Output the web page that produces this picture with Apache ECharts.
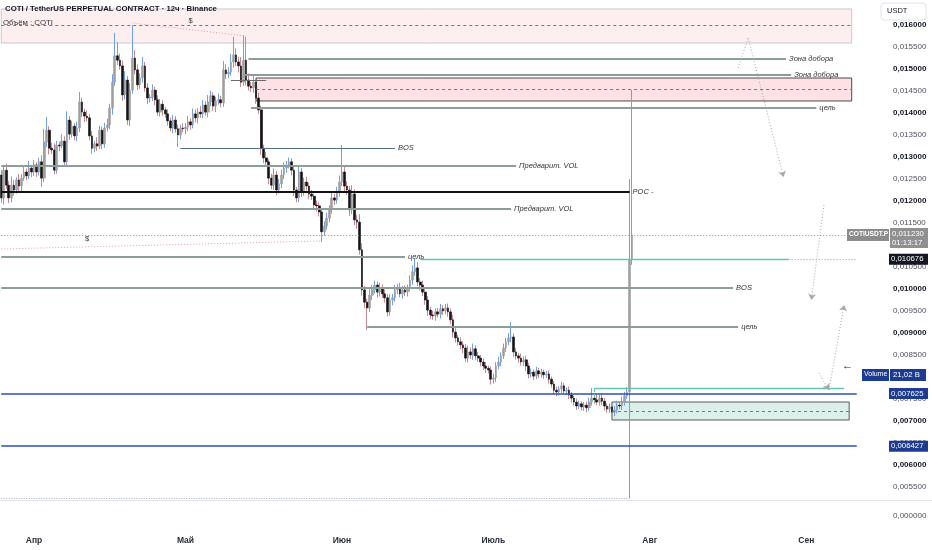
<!DOCTYPE html>
<html><head><meta charset="utf-8">
<script src="https://cdn.jsdelivr.net/npm/echarts@6/dist/echarts.min.js"></script>
<style>html,body{margin:0;padding:0;background:#fff}#c{width:932px;height:550px}</style>
</head><body><div id="c"></div>
<script>
// ---------- data (prices in 1e-6 USDT) ----------
const startUTC = Date.UTC(2025, 2, 25, 12);   // first 12h candle
const slotCount = 340;                         // 12h slots shown on the time scale
const monthLabels = {4:'Апр',5:'Май',6:'Июн',7:'Июль',8:'Авг',9:'Сен'};
const firstOpen = 12590;
const closes = [
12070,12700,12360,12070,12360,12250,12480,12340,12520,12660,
12570,12750,12660,12820,12660,12890,12520,13340,13610,13200,
13160,12700,13270,13250,13360,12890,13840,13520,13700,13480,
13660,14250,14020,13930,13890,13480,13200,13300,13250,13610,
13300,13660,13730,14110,14700,15300,15200,15070,14410,14750,
13840,14520,15250,14980,14640,14800,15070,14570,14340,14360,
14520,14300,14020,14200,14070,13980,13820,13660,13840,13640,
13500,13660,13640,13680,13800,13730,13980,13890,14020,13980,
14180,14020,14250,14390,14160,14270,14300,14230,14980,14890,
14930,15160,15320,15160,15070,14700,15200,14750,14610,14570,
14700,14340,14070,13200,12980,12890,12520,12360,12590,12250,
12390,12590,12750,12820,12890,12700,12250,12070,12660,12200,
12430,12340,12160,12110,11910,11890,11750,11300,11430,11610,
11800,12070,12020,12200,12430,12660,12340,12250,11800,12160,
11570,11520,10890,9980,9700,9570,9860,9980,10090,9930,
10020,9890,9800,9480,9750,9800,9980,10020,9890,9980,
9930,10020,10200,10390,10480,10160,10090,9930,9750,9520,
9410,9390,9480,9430,9550,9500,9570,9480,9300,9020,
8890,8800,8730,8660,8430,8570,8500,8640,8480,8430,
8340,8250,8200,8160,7950,7980,8250,8340,8480,8660,
8800,8890,8910,8570,8480,8430,8340,8390,8250,8070,
8110,8020,8140,8070,8110,8050,8070,7950,7840,7700,
7660,7730,7800,7680,7700,7590,7520,7430,7340,7390,
7320,7360,7300,7430,7520,7480,7430,7520,7450,7340,
7270,7320,7200,7250,7360,7340,7430,7570,7660,10676,
11230];
const upperWick = [
110,80,150,90,200,120,60,140,90,120,
80,160,70,110,60,90,150,300,300,90,
120,150,100,80,160,110,200,90,120,70,
140,230,100,80,130,90,110,60,150,100,
80,120,140,100,180,520,310,150,120,200,
90,160,750,180,120,100,200,90,110,70,
130,80,100,120,90,60,100,80,120,90,
100,70,110,90,130,80,120,100,90,140,
110,90,160,120,80,100,140,90,200,130,
110,180,410,150,120,200,570,530,150,100,
160,90,120,100,80,140,60,100,150,90,
110,120,130,90,100,80,110,70,150,90,
100,120,80,90,60,100,80,70,110,120,
100,130,90,120,150,610,140,110,90,200,
100,120,180,150,90,80,140,110,100,80,
120,90,100,80,130,90,110,100,120,90,
100,80,110,150,220,130,90,100,80,90,
70,100,80,90,110,80,90,100,80,110,
90,70,100,80,90,140,100,120,80,90,
70,80,90,60,80,100,90,120,80,100,
90,110,340,80,90,70,100,80,90,70,
80,60,90,70,80,60,70,80,60,70,
80,60,90,70,60,80,70,60,80,70,
60,70,80,100,230,90,120,80,100,70,
60,80,70,90,100,80,120,90,110,1824,
3290];
const lowerWick = [
110,150,90,120,100,130,80,110,140,60,
100,70,120,90,110,80,200,90,110,140,
90,100,80,120,60,110,90,130,80,100,
120,90,110,140,80,100,130,90,110,70,
120,90,80,100,150,80,110,90,130,100,
110,140,80,100,120,90,110,80,140,100,
90,120,80,100,130,90,110,80,120,90,
270,100,80,120,90,110,80,100,130,90,
100,80,120,90,110,140,80,100,90,120,
100,80,130,90,150,110,80,120,100,90,
110,130,90,150,120,100,140,90,110,120,
80,100,90,110,80,120,140,100,90,110,
80,100,120,90,110,130,100,230,90,80,
100,90,110,80,100,90,120,110,140,100,
120,150,110,130,140,500,90,110,80,120,
100,90,110,100,80,120,90,100,80,110,
90,100,80,110,90,100,120,90,110,130,
100,90,110,80,100,90,80,110,100,120,
110,90,100,120,80,100,90,110,100,80,
100,90,110,80,120,100,90,80,100,70,
90,80,100,110,90,100,80,90,110,100,
80,90,70,100,80,90,70,100,80,90,
100,80,90,70,80,90,100,80,90,70,
80,90,100,70,80,90,70,80,90,100,
80,90,100,90,80,70,90,80,70,2410,
126];

// ---------- drawings (slot index, price in USDT) ----------
const levelLines = [ // [fromSlot, toSlot, price, label, style]
  [98, 311, 0.015227, 'Зона добора', 'g'],
  [96, 313, 0.014875, 'Зона добора', 'g'],
  [91, 105, 0.014750, '', 'd'],
  [99, 323, 0.014114, 'цель', 'g'],
  [71, 156, 0.013205, 'BOS', 'b'],
  [0, 204, 0.012795, 'Предварит. VOL', 'g'],
  [0, 249, 0.012205, 'POC -', 'k'],
  [0, 202, 0.011830, 'Предварит. VOL', 'g'],
  [0, 160, 0.010727, 'цель', 'g'],
  [166, 312, 0.010676, '', 't'],
  [0, 290, 0.010023, 'BOS', 'g'],
  [145, 292, 0.009136, 'цель', 'g'],
  [235, 334, 0.007750, '', 't'],
  [0, 339, 0.007625, '', 'u'],
  [0, 339, 0.006427, '', 'u']
];
const boxes = [ // [fromSlot, toSlot, top, bottom, fill, border]
  [0, 337, 0.016364, 0.015590, 'rgba(250,220,222,0.45)', '#c9c9c9'],
  [101, 337, 0.014795, 0.014273, 'rgba(248,190,198,0.45)', '#4a4a4a'],
  [242, 336, 0.007432, 0.007023, 'rgba(178,222,210,0.45)', '#5a5a5a']
];
const boxMids = [[0, 337, 0.016000], [101, 337, 0.014545], [242, 336, 0.007230]];
const liquidityLines = [[52, 0.016045, 97, 0.015750], [0, 0.010909, 127, 0.011091]];
const dollarMarks = [[75, 0.016090], [34, 0.011140]];
const projection = [ // [fromSlot, fromPrice, toSlot, toPrice, arrow]
  [292, 0.015023, 296, 0.015705, 0],
  [296, 0.015705, 310, 0.012545, 1],
  [326, 0.011909, 321, 0.009750, 1],
  [324, 0.008091, 328, 0.007705, 1],
  [328, 0.007705, 334, 0.009636, 1]
];
const priceLevels = {last: 0.011230, mark: 0.010676, blue1: 0.007625, blue2: 0.006427};

// ---------- build ----------
const U = 1e-6;
const cats = [];
for (let k = 0; k < slotCount; k++) {
  const d = new Date(startUTC + k * 43200000);
  cats.push(d.toISOString().slice(0, 13).replace('T', ' ') + ':00');
}
const opens = closes.map((c, i) => i === 0 ? firstOpen : closes[i - 1]);
const wickData = closes.map((c, i) => {
  const o = opens[i], hi = Math.max(o, c) + upperWick[i], lo = Math.min(o, c) - lowerWick[i];
  return [o * U, c * U, lo * U, hi * U];
});
const bodyData = closes.map((c, i) => {
  const o = opens[i];
  return [o * U, c * U, Math.min(o, c) * U, Math.max(o, c) * U];
});

const styleMap = {
  g: {color: '#8b9f98', width: 1.8, type: 'solid'},
  d: {color: '#6b6b6b', width: 1.2, type: 'solid'},
  b: {color: '#55707e', width: 1.2, type: 'solid'},
  k: {color: '#111111', width: 2, type: 'solid'},
  t: {color: '#62c7b2', width: 1.3, type: 'solid'},
  u: {color: '#2e4fb3', width: 1.5, type: 'solid'}
};
const FONT = '"Liberation Sans", Arial, sans-serif';
const lblBase = {show: true, position: 'end', distance: 3, fontSize: 7.5, fontStyle: 'italic', color: '#333', fontFamily: FONT};

const mlData = [];
// dotted last-price line across the pane
mlData.push([{coord: [0, priceLevels.last], lineStyle: {color: '#8a8a8a', width: 1, type: [1, 2]}, label: {show: false}}, {coord: [339, priceLevels.last]}]);
levelLines.forEach(([a, b, p, txt, st]) => {
  mlData.push([{coord: [a, p], lineStyle: styleMap[st], label: txt ? Object.assign({}, lblBase, {formatter: txt}) : {show: false}}, {coord: [b, p]}]);
});
boxMids.forEach(([a, b, p]) => {
  mlData.push([{coord: [a, p], lineStyle: {color: '#777', width: 1, type: [3, 3]}, label: {show: false}}, {coord: [b, p]}]);
});
liquidityLines.forEach(([a, p1, b, p2]) => {
  mlData.push([{coord: [a, p1], lineStyle: {color: '#e39aa2', width: 1, type: [1, 2]}, label: {show: false}}, {coord: [b, p2]}]);
});
projection.forEach(([a, p1, b, p2, arr]) => {
  mlData.push([{coord: [a, p1], symbol: 'none', lineStyle: {color: '#a8a8a8', width: 1, type: [1, 2]}, label: {show: false}},
               {coord: [b, p2], symbol: arr ? 'arrow' : 'none', symbolSize: 6}]);
});
mlData.push([{coord: [235, 0.007750], lineStyle: {color: '#62c7b2', width: 1}, label: {show: false}}, {coord: [235, 0.00745]}]);
mlData.push([{coord: [312, priceLevels.mark], lineStyle: {color: '#9a9a9a', width: 1, type: [1, 2]}, label: {show: false}}, {coord: [339, priceLevels.mark]}]);
// volume pane baseline (tiny bars)
mlData.push([{coord: [0, 0.00525], lineStyle: {color: '#a3acc4', width: 1.2, type: [1, 1.5]}, label: {show: false}}, {coord: [249, 0.00525]}]);

const maData = boxes.map(([a, b, t, bt, fill, border]) => [
  {coord: [a, t], itemStyle: {color: fill, borderColor: border, borderWidth: 1}},
  {coord: [b, bt]}
]);

const chart = echarts.init(document.getElementById('c'));
chart.setOption({
  animation: false,
  backgroundColor: '#ffffff',
  grid: {left: 0, right: 74, top: 3, bottom: 41, containLabel: false},
  xAxis: {
    type: 'category', data: cats, boundaryGap: true,
    axisLine: {show: false}, axisTick: {show: false}, splitLine: {show: false},
    axisLabel: {
      interval: (i, v) => v.slice(8, 10) === '01' && v.slice(11, 13) === '00',
      formatter: v => monthLabels[parseInt(v.slice(5, 7), 10)] || '',
      margin: 27, fontSize: 8.5, fontWeight: 'bold', color: '#2a2e39', fontFamily: FONT, hideOverlap: false
    }
  },
  yAxis: {
    type: 'value', position: 'right', min: 0.005, max: 0.0165, interval: 0.0005,
    axisLine: {show: false}, axisTick: {show: false}, splitLine: {show: false},
    axisLabel: {
      margin: 35, align: 'left', fontFamily: FONT,
      formatter: v => {
        if (v < 0.0054 || v > 0.0162) return '';
        const s = v.toFixed(6).replace('.', ',');
        return Math.round(v * 1e4) % 10 === 0 ? '{b|' + s + '}' : '{n|' + s + '}';
      },
      rich: {b: {fontSize: 8, fontWeight: 'bold', color: '#131722', fontFamily: FONT},
             n: {fontSize: 8, color: '#50535e', fontFamily: FONT}}
    }
  },
  series: [
    {name: 'wick', type: 'candlestick', data: wickData, barWidth: 1, z: 3,
     itemStyle: {color: '#6f9ef5', color0: '#c98890', borderColor: '#6f9ef5', borderColor0: '#c98890', borderWidth: 1}},
    {name: 'body', type: 'candlestick', data: bodyData, barWidth: 2.2, z: 4,
     itemStyle: {color: '#9f9f9f', color0: '#141414', borderColor: '#9f9f9f', borderColor0: '#141414', borderWidth: 0.6}},
    {name: 'drawings', type: 'line', data: [], z: 5,
     markLine: {silent: true, symbol: 'none', animation: false, data: mlData},
     markArea: {silent: true, data: maData},
     markPoint: {silent: true, symbol: 'circle', symbolSize: 1, itemStyle: {color: 'rgba(0,0,0,0)'},
       label: {show: true, position: 'inside', formatter: '$', fontSize: 7.5, color: '#333', fontFamily: FONT},
       data: dollarMarks.map(d => ({coord: d}))}}
  ]
});

// ---------- scale tags & headers ----------
const py = v => chart.convertToPixel({yAxisIndex: 0}, v);
const txt = (x, y, s, o) => ({type: 'text', x, y, z: 100, style: Object.assign({text: s, fontSize: 8, fill: '#131722', fontFamily: FONT}, o || {})});
const box = (x, y, w, h, fill, o) => ({type: 'rect', z: 99, shape: Object.assign({x, y, width: w, height: h}, o || {}), style: {fill}});
const yl = py(priceLevels.last), ym = py(priceLevels.mark), yb1 = py(priceLevels.blue1), yb2 = py(priceLevels.blue2);
chart.setOption({graphic: [
  txt(5, 5, 'COTI / TetherUS PERPETUAL CONTRACT · 12ч · Binance', {fontSize: 7.8, fontWeight: 'bold'}),
  txt(3, 19, 'Объём : COTI', {fontSize: 7.8, fill: '#333'}),
  {type: 'rect', z: 99, shape: {x: 881, y: 3, width: 45, height: 17, r: 3}, style: {fill: '#fff', stroke: '#e0e3eb', lineWidth: 1}},
  txt(887, 7, 'USDT', {fontSize: 7.5}),
  {type: 'line', z: 98, shape: {x1: 0, y1: 500.5, x2: 932, y2: 500.5}, style: {stroke: '#e3e5ea', lineWidth: 1}},
  txt(893, 512, '0,000000', {fontSize: 8, fill: '#50535e'}),
  box(847, yl - 6, 42, 12, '#8c8c8c'),
  txt(849, yl - 4, 'COTIUSDT.P', {fontSize: 6.6, fill: '#fff', fontWeight: 'bold'}),
  box(890, yl - 7, 38, 20, '#909090'),
  txt(892, yl - 5, '0,011230', {fontSize: 7.8, fill: '#fff'}),
  txt(892, yl + 4, '01:13:17', {fontSize: 7.8, fill: '#fff'}),
  box(889, ym - 5.5, 39, 11, '#131722'),
  txt(891, ym - 4, '0,010676', {fontSize: 7.8, fill: '#fff'}),
  box(889, yb1 - 5.5, 39, 11, '#1e3c8f'),
  txt(891, yb1 - 4, '0,007625', {fontSize: 7.8, fill: '#fff'}),
  box(889, yb2 - 5.5, 39, 11, '#1e3c8f'),
  txt(891, yb2 - 4, '0,006427', {fontSize: 7.8, fill: '#fff'}),
  box(862, 369, 27, 12, '#1e3c8f'),
  txt(864, 371, 'Volume', {fontSize: 7, fill: '#fff'}),
  box(890, 369, 36, 12, '#1e3c8f'),
  txt(893, 371, '21,02 B', {fontSize: 7.8, fill: '#fff'}),
  txt(842, 360, '←', {fontSize: 11, fontWeight: 'bold', fill: '#222'})
]});
</script>
</body></html>
